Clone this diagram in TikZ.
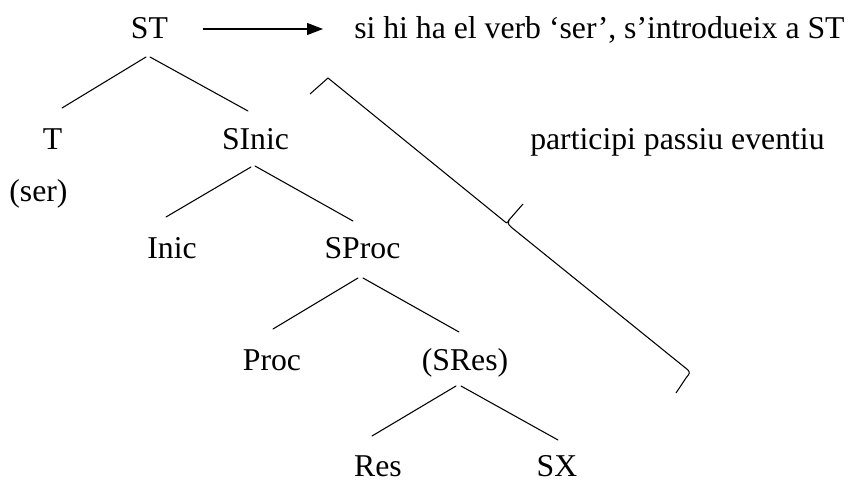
\documentclass[tikz,border=0pt]{standalone}
\usepackage{fontspec}
\setmainfont{Liberation Serif}
\usetikzlibrary{arrows.meta}
\begin{document}
\begin{tikzpicture}[x=0.75pt,y=-0.75pt,
  lbl/.style={font=\fontsize{23.8}{29}\selectfont, inner sep=0pt, anchor=base},
  branch/.style={line width=0.8pt, line cap=round},
  pointer/.style={line width=0.8pt, -{Triangle[length=12pt,width=9pt]}},
  bracket/.style={line width=0.8pt, line join=round}]
  \useasboundingbox (0,0) rectangle (851,482);

  % tree labels
  \node[lbl] (ST)    at (149.5,38) {ST};
  \node[lbl] (T)     at (52.5,149) {T};
  \node[lbl] (SInic) at (255.5,149) {SInic};
  \node[lbl] (ser)   at (38.5,201) {(ser)};
  \node[lbl] (Inic)  at (172,258) {Inic};
  \node[lbl] (SProc) at (362.5,258) {SProc};
  \node[lbl] (Proc)  at (272,370) {Proc};
  \node[lbl] (SRes)  at (465,370) {(SRes)};
  \node[lbl] (Res)   at (378,476) {Res};
  \node[lbl] (SX)    at (557,476) {SX};

  % side notes
  \node[lbl, anchor=base west] (info) at (354,38) {si hi ha el verb ‘ser’, s’introdueix a ST};
  \node[lbl, anchor=base west] (part) at (530,149) {participi passiu eventiu};

  % branches
  \draw[branch] ([shift={(-3.5,19)}]ST.base) -- ([shift={(9.5,-41)}]T.base);
  \draw[branch] ([shift={(0.5,19)}]ST.base) -- ([shift={(-7.5,-38)}]SInic.base);
  \draw[branch] ([shift={(-4.5,18)}]SInic.base) -- ([shift={(-6,-41)}]Inic.base);
  \draw[branch] ([shift={(-0.5,17)}]SInic.base) -- ([shift={(-9.5,-37)}]SProc.base);
  \draw[branch] ([shift={(-4.5,20)}]SProc.base) -- ([shift={(1,-41)}]Proc.base);
  \draw[branch] ([shift={(0.5,20)}]SProc.base) -- ([shift={(-6,-38)}]SRes.base);
  \draw[branch] ([shift={(-9,16)}]SRes.base) -- ([shift={(-6,-40)}]Res.base);
  \draw[branch] ([shift={(-4,16)}]SRes.base) -- ([shift={(1,-36)}]SX.base);

  % arrow to the note
  \draw[pointer] ([shift={(53.5,-9)}]ST.base) -- ([shift={(-31,-9)}]info.base west);

  % slanted brace
  \draw[bracket] (310,94) -- (328,78) -- (504,221)
    .. controls (507,223.5) .. (509,220) -- (523,204);
  \draw[bracket] (509,220) .. controls (508,224) .. (511,227) -- (688,370)
    .. controls (690,373) .. (686,378) -- (676,393);
\end{tikzpicture}
\end{document}
